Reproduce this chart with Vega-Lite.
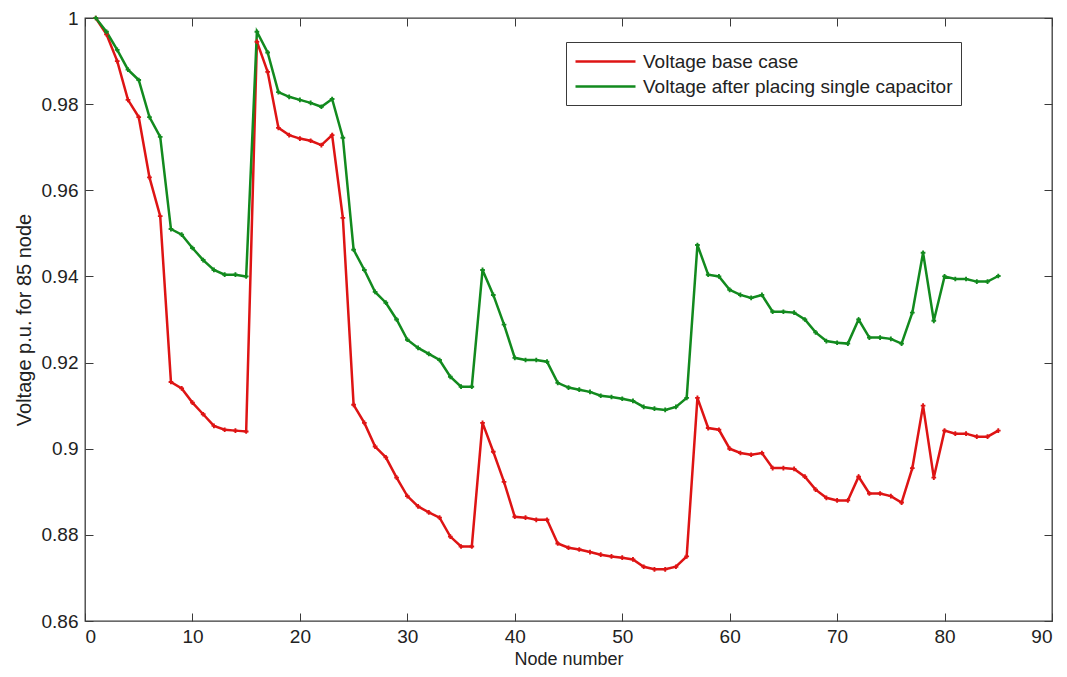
{
  "$schema": "https://vega.github.io/schema/vega-lite/v6.json",
  "width": 967,
  "height": 603,
  "autosize": {"type": "none"},
  "padding": {"left": 85, "top": 18, "right": 15, "bottom": 56},
  "background": "white",
  "config": {
    "view": {"stroke": "#3a3a3a", "strokeWidth": 1.3},
    "font": "Liberation Sans",
    "axis": {"grid": false, "domainColor": "#3a3a3a", "tickColor": "#3a3a3a", "labelColor": "#222222", "titleColor": "#222222", "labelFont": "Liberation Sans", "titleFont": "Liberation Sans", "titleFontWeight": "normal"}
  },
  "data": {
    "values": [
      {"n":1,"b":1.0,"c":1.0},{"n":2,"b":0.9962,"c":0.9968},{"n":3,"b":0.990,"c":0.9926},{"n":4,"b":0.981,"c":0.988},{"n":5,"b":0.977,"c":0.9856},
      {"n":6,"b":0.963,"c":0.977},{"n":7,"b":0.954,"c":0.9724},{"n":8,"b":0.9155,"c":0.951},{"n":9,"b":0.914,"c":0.9497},{"n":10,"b":0.9107,"c":0.9466},
      {"n":11,"b":0.908,"c":0.9438},{"n":12,"b":0.9053,"c":0.9415},{"n":13,"b":0.9044,"c":0.9404},{"n":14,"b":0.9042,"c":0.9404},{"n":15,"b":0.904,"c":0.940},
      {"n":16,"b":0.9945,"c":0.9968},{"n":17,"b":0.9875,"c":0.992},{"n":18,"b":0.9745,"c":0.9828},{"n":19,"b":0.9728,"c":0.9817},{"n":20,"b":0.972,"c":0.981},
      {"n":21,"b":0.9715,"c":0.9803},{"n":22,"b":0.9705,"c":0.9794},{"n":23,"b":0.9728,"c":0.9812},{"n":24,"b":0.9536,"c":0.9722},{"n":25,"b":0.9102,"c":0.9462},
      {"n":26,"b":0.906,"c":0.9415},{"n":27,"b":0.9005,"c":0.9364},{"n":28,"b":0.898,"c":0.9339},{"n":29,"b":0.8933,"c":0.930},{"n":30,"b":0.889,"c":0.9253},
      {"n":31,"b":0.8866,"c":0.9234},{"n":32,"b":0.8852,"c":0.922},{"n":33,"b":0.884,"c":0.9206},{"n":34,"b":0.8796,"c":0.9167},{"n":35,"b":0.8773,"c":0.9144},
      {"n":36,"b":0.8773,"c":0.9144},{"n":37,"b":0.906,"c":0.9415},{"n":38,"b":0.8993,"c":0.9357},{"n":39,"b":0.8923,"c":0.9288},{"n":40,"b":0.8842,"c":0.9211},
      {"n":41,"b":0.884,"c":0.9206},{"n":42,"b":0.8835,"c":0.9206},{"n":43,"b":0.8835,"c":0.9202},{"n":44,"b":0.878,"c":0.9153},{"n":45,"b":0.877,"c":0.9142},
      {"n":46,"b":0.8766,"c":0.9137},{"n":47,"b":0.876,"c":0.9132},{"n":48,"b":0.8754,"c":0.9123},{"n":49,"b":0.875,"c":0.912},{"n":50,"b":0.8747,"c":0.9116},
      {"n":51,"b":0.8743,"c":0.9111},{"n":52,"b":0.8726,"c":0.9097},{"n":53,"b":0.872,"c":0.9093},{"n":54,"b":0.872,"c":0.909},{"n":55,"b":0.8726,"c":0.9097},
      {"n":56,"b":0.875,"c":0.9118},{"n":57,"b":0.9118,"c":0.9473},{"n":58,"b":0.9048,"c":0.9404},{"n":59,"b":0.9044,"c":0.940},{"n":60,"b":0.900,"c":0.9369},
      {"n":61,"b":0.899,"c":0.9357},{"n":62,"b":0.8986,"c":0.935},{"n":63,"b":0.899,"c":0.9357},{"n":64,"b":0.8955,"c":0.9318},{"n":65,"b":0.8955,"c":0.9318},
      {"n":66,"b":0.8953,"c":0.9316},{"n":67,"b":0.8935,"c":0.930},{"n":68,"b":0.8905,"c":0.927},{"n":69,"b":0.8886,"c":0.925},{"n":70,"b":0.888,"c":0.9246},
      {"n":71,"b":0.888,"c":0.9244},{"n":72,"b":0.8935,"c":0.930},{"n":73,"b":0.8896,"c":0.9258},{"n":74,"b":0.8896,"c":0.9258},{"n":75,"b":0.889,"c":0.9255},
      {"n":76,"b":0.8875,"c":0.9244},{"n":77,"b":0.8955,"c":0.9316},{"n":78,"b":0.910,"c":0.9455},{"n":79,"b":0.8933,"c":0.9297},{"n":80,"b":0.9042,"c":0.940},
      {"n":81,"b":0.9035,"c":0.9394},{"n":82,"b":0.9035,"c":0.9394},{"n":83,"b":0.9028,"c":0.9388},{"n":84,"b":0.9028,"c":0.9388},{"n":85,"b":0.9042,"c":0.9401}
    ]
  },
  "transform": [{"fold": ["b", "c"], "as": ["series", "v"]}],
  "layer": [
    {
      "mark": {"type": "line", "strokeWidth": 2.5, "point": {"shape": "cross", "size": 22, "filled": true}},
      "encoding": {
        "x": {"field": "n", "type": "quantitative", "scale": {"domain": [0, 90], "nice": false},
              "axis": {"orient": "bottom", "values": [0,10,20,30,40,50,60,70,80,90], "tickSize": -8, "labelPadding": 14, "labelFontSize": 19, "title": "Node number", "titleFontSize": 18, "titlePadding": 4, "domain": false}},
        "y": {"field": "v", "type": "quantitative", "scale": {"domain": [0.86, 1], "nice": false, "zero": false},
              "axis": {"orient": "left", "values": [0.86,0.88,0.9,0.92,0.94,0.96,0.98,1], "format": "~g", "tickSize": -8, "labelPadding": 15, "labelFontSize": 19, "title": "Voltage p.u. for 85 node", "titleFontSize": 20, "titlePadding": 7, "domain": false}},
        "color": {"field": "series", "type": "nominal",
                  "scale": {"domain": ["b", "c"], "range": ["#de1414", "#128a1e"]},
                  "legend": {"title": null, "orient": "none", "legendX": 481, "legendY": 24,
                             "labelExpr": "datum.value == 'b' ? 'Voltage base case' : 'Voltage after placing single capacitor'",
                             "strokeColor": "#3a3a3a", "fillColor": "white", "padding": 8,
                             "labelFontSize": 19, "labelFont": "Liberation Sans", "labelColor": "#222222", "labelLimit": 0,
                             "symbolType": "M-1,0H5", "symbolSize": 400, "symbolStrokeWidth": 2.5, "symbolFillColor": "transparent", "labelOffset": 46, "rowPadding": 3}}
      }
    },
    {
      "mark": {"type": "line", "opacity": 0},
      "encoding": {
        "x": {"field": "n", "type": "quantitative",
              "axis": {"orient": "top", "values": [0,10,20,30,40,50,60,70,80,90], "tickSize": -8, "labels": false, "title": null, "domain": false}},
        "y": {"field": "v", "type": "quantitative",
              "axis": {"orient": "right", "values": [0.86,0.88,0.9,0.92,0.94,0.96,0.98,1], "tickSize": -8, "labels": false, "title": null, "domain": false}},
        "detail": {"field": "series"}
      }
    }
  ],
  "resolve": {"axis": {"x": "independent", "y": "independent"}}
}
